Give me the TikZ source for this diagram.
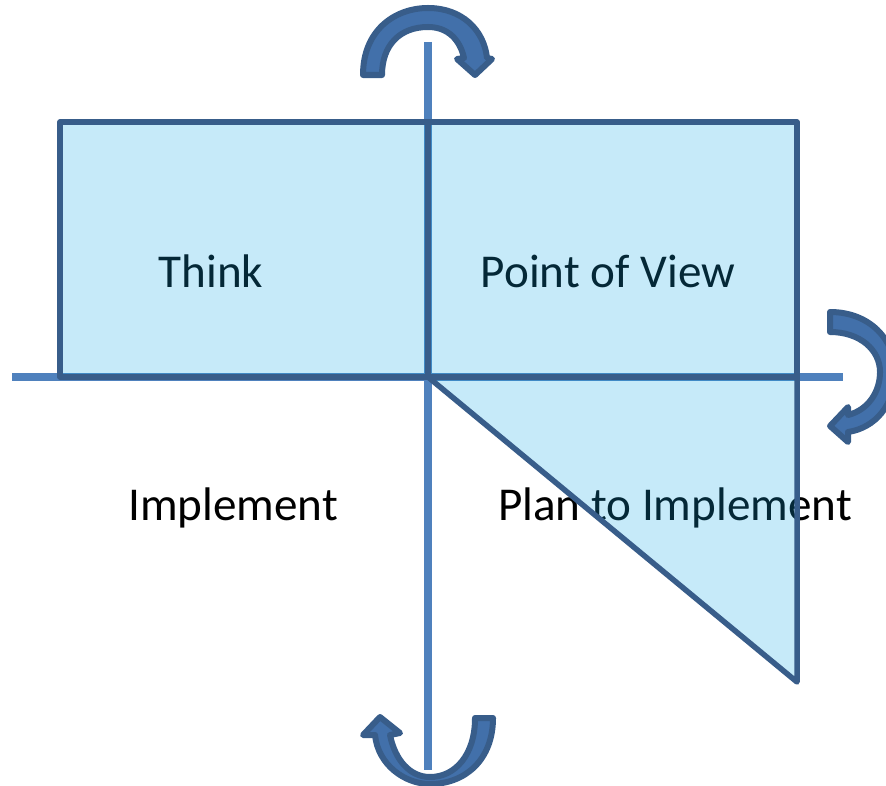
\documentclass[tikz,border=0pt]{standalone}
\usepackage{fontspec}
\setmainfont{Carlito}
\definecolor{boxline}{RGB}{56,93,138}
\definecolor{boxfill}{RGB}{18,168,230}
\definecolor{axisblue}{RGB}{79,129,189}
\definecolor{turnfill}{RGB}{66,112,170}
\begin{document}
\begin{tikzpicture}
	[x=0.01cm,y=-0.01cm,
	box/.style={draw=boxline,line width=0.055cm,fill=boxfill,fill opacity=0.24,line join=round},
	axis/.style={draw=axisblue,line width=0.08cm},
	turn/.style={draw=boxline,line width=0.06cm,fill=turnfill,line join=round},
	txt/.style={inner sep=0,anchor=base,font=\fontsize{13.4}{16}\selectfont}]
	\useasboundingbox (0,0) rectangle (886,785);
	\clip (0,0) rectangle (886,785);
	\node[txt,name=think] at (211,287) {Think};
	\node[txt,name=pov] at (608,287) {Point of View};
	\node[txt,name=impl] at (233,520) {Implement};
	\node[txt,name=plan] at (675,520) {Plan to Implement};
	\coordinate (o) at (428,377);
	\coordinate (top) at (428,42);
	\coordinate (bottom) at (428,770);
	\coordinate (left) at (12,377);
	\coordinate (right) at (843,377);
	\draw[axis] (top) -- (bottom);
	\draw[axis] (left) -- (right);
	\draw[box] (60,122) rectangle (o);
	\draw[box] (o) rectangle (797,122);
	\draw[box] (o) -- (797,377) -- (797,682) -- cycle;
	\draw[turn] (363,75) .. controls (363,30) and (395,8) .. (428,8)
		.. controls (462,8) and (484,30) .. (487,58) -- (492,59) -- (475,75) -- (457,59) -- (464,58)
		.. controls (460,40) and (448,27) .. (428,27)
		.. controls (400,27) and (382,45) .. (382,75) -- cycle;
	\draw[turn] (830,312) .. controls (870,312) and (895,340) .. (895,372)
		.. controls (895,405) and (875,428) .. (848,432) -- (848,442) -- (830,426) -- (848,407) -- (848,415)
		.. controls (868,410) and (880,392) .. (880,372)
		.. controls (880,350) and (860,332) .. (830,332) -- cycle;
	\draw[turn] (493,718) .. controls (493,760) and (465,784) .. (430,784)
		.. controls (405,784) and (378,765) .. (375,735) -- (363,735) -- (380,717) -- (400,733) -- (390,735)
		.. controls (395,760) and (410,777) .. (430,777)
		.. controls (455,777) and (475,755) .. (475,718) -- cycle;
\end{tikzpicture}
\end{document}
